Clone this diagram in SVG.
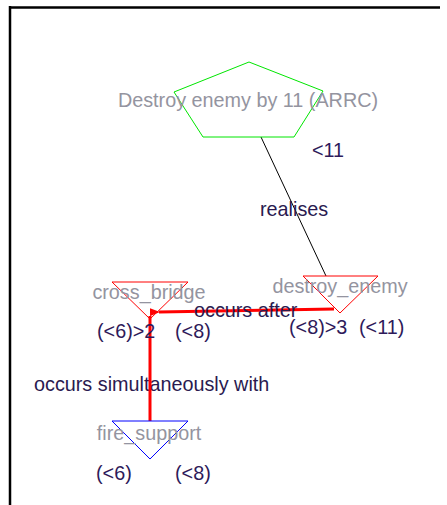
<svg xmlns="http://www.w3.org/2000/svg" width="447" height="505" viewBox="0 0 447 505">
  <style>
    .node-label { font-family: "Liberation Sans", Arial, sans-serif; font-size: 19.8px; fill: #9494a0; text-anchor: middle; }
    .bound { font-family: "Liberation Sans", Arial, sans-serif; font-size: 19.8px; fill: #2e1a5a; }
    .edge-label { font-family: "Liberation Sans", Arial, sans-serif; font-size: 19.8px; fill: #2a1a50; }
    .frame { stroke: #000; stroke-width: 2.5; fill: none; }
  </style>
  <defs>
    <marker id="arrow-red" markerWidth="10" markerHeight="8" refX="1" refY="4" orient="auto" markerUnits="userSpaceOnUse">
      <path d="M10,0 L0,4 L10,8 Z" fill="#ff0000"/>
    </marker>
  </defs>

  <rect width="447" height="505" fill="#ffffff"/>

  <!-- panel frame -->
  <g id="frame">
    <line class="frame" x1="9" y1="7.5" x2="440" y2="7.5"/>
    <line class="frame" x1="10" y1="6" x2="10" y2="505"/>
  </g>

  <!-- connectors and their labels -->
  <g id="connectors">
    <line x1="261" y1="137" x2="326" y2="276" stroke="#000" stroke-width="1"/>
    <text class="edge-label" x="260" y="216">realises</text>
    <text class="edge-label" x="34" y="391">occurs simultaneously with</text>
    <line x1="334" y1="309" x2="159" y2="312" stroke="#ff0000" stroke-width="3" marker-end="url(#arrow-red)"/>
    <line x1="150" y1="316" x2="150" y2="421" stroke="#ff0000" stroke-width="3"/>
    <text class="edge-label" x="194" y="317" fill="#111">occurs after</text>
  </g>

  <!-- goal: Destroy enemy by 11 (ARRC) -->
  <g id="goal-destroy-enemy">
    <polygon points="249,62 323,91 294,137 203,137 174,92" fill="none" stroke="#00e600" stroke-width="1"/>
    <text class="node-label" x="248" y="107">Destroy enemy by 11 (ARRC)</text>
    <text class="bound" x="312" y="157">&lt;11</text>
  </g>

  <!-- task: destroy_enemy -->
  <g id="task-destroy-enemy">
    <polygon points="303,276 378,276 340,313" fill="none" stroke="#ff0000" stroke-width="1"/>
    <text class="node-label" x="340" y="293">destroy_enemy</text>
    <text class="bound" x="289" y="334">(&lt;8)&gt;3</text>
    <text class="bound" x="359" y="334">(&lt;11)</text>
  </g>

  <!-- task: cross_bridge -->
  <g id="task-cross-bridge">
    <polygon points="112,282 188,282 150,319" fill="none" stroke="#ff0000" stroke-width="1"/>
    <text class="node-label" x="149" y="299">cross_bridge</text>
    <text class="bound" x="97" y="338">(&lt;6)&gt;2</text>
    <text class="bound" x="175" y="338">(&lt;8)</text>
  </g>

  <!-- task: fire_support -->
  <g id="task-fire-support">
    <polygon points="112,421 188,421 150,459" fill="none" stroke="#0000ff" stroke-width="1"/>
    <text class="node-label" x="149" y="440">fire_support</text>
    <text class="bound" x="96" y="480">(&lt;6)</text>
    <text class="bound" x="175" y="480">(&lt;8)</text>
  </g>
</svg>
